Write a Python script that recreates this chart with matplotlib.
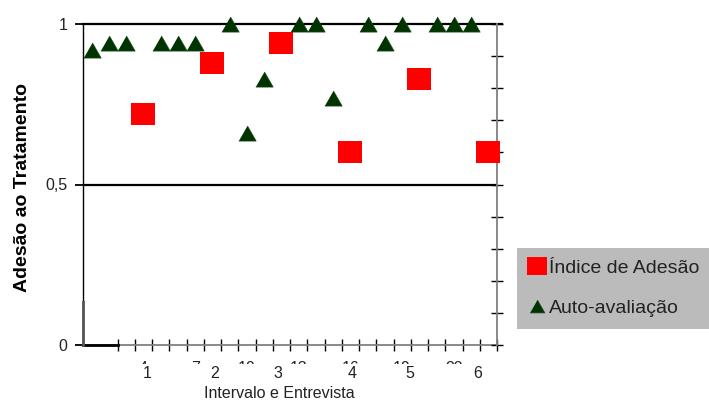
import numpy as np
import matplotlib
matplotlib.use("Agg")
import matplotlib.pyplot as plt
from matplotlib.patches import Rectangle

plt.rcParams['font.family'] = ['Liberation Sans', 'DejaVu Sans']

# category positions (1..24) and values
pos_indice = [4, 8, 12, 16, 20, 24]
indice_adesao = [0.72, 0.88, 0.94, 0.60, 0.83, 0.60]

pos_auto = [1, 2, 3, 5, 6, 7, 9, 10, 11, 13, 14, 15, 17, 18, 19, 21, 22, 23]
auto_avaliacao = [0.92, 0.94, 0.94, 0.94, 0.94, 0.94, 1.0, 0.66, 0.83,
                  1.0, 1.0, 0.77, 1.0, 0.94, 1.0, 1.0, 1.0, 1.0]

cut_labels = ["4", "7", "10", "13", "16", "19", "22"]
cut_pos = [4, 7, 10, 13, 16, 19, 22]
group_labels = ["1", "2", "3", "4", "5", "6"]
group_pos = [4.2, 8.15, 11.8, 16.1, 19.45, 23.4]

W, H = 709, 401
fig = plt.figure(figsize=(W / 100, H / 100), dpi=100)
ax = fig.add_axes([83 / W, 1 - 345 / H, 414 / W, 321 / H])
ax.set_xlim(0.5, 24.5)
ax.set_ylim(0, 1)

grey = '#808080'
for s in ['top', 'right']:
    ax.spines[s].set_visible(False)
ax.spines['left'].set_color('black')
ax.spines['left'].set_linewidth(1.0)
ax.spines['bottom'].set_color(grey)
ax.spines['bottom'].set_linewidth(1.3)

# left axis
ax.set_yticks([0, 0.5, 1])
ax.set_yticklabels(["0", "0,5", "1"])
ax.tick_params(axis='y', direction='out', length=6, width=1.3, color='black',
               labelsize=11.5, pad=5, labelcolor='#222222')

# bottom axis with category boundaries
ax.set_xticks(np.arange(2.5, 24.6, 1))
ax.set_xticklabels([])
ax.tick_params(axis='x', direction='inout', length=8, width=1, color='black')

# right axis
ax2 = ax.twinx()
ax2.set_ylim(0, 1)
for s in ['top', 'left', 'bottom']:
    ax2.spines[s].set_visible(False)
ax2.spines['right'].set_color(grey)
ax2.spines['right'].set_linewidth(1.3)
ax2.set_yticks(np.arange(0, 1.01, 0.1))
ax2.set_yticklabels([])
ax2.tick_params(axis='y', direction='inout', length=8, width=1, color='black')

# reference lines
ax.axhline(1, xmin=0, xmax=1.012, color='black', lw=1.6, clip_on=False, zorder=1)
ax.axhline(0.5, xmin=0, xmax=1.0, color='black', lw=1.6, zorder=1)
ax.plot([0.5, 2.5], [0, 0], color='black', lw=2, clip_on=False, zorder=3)
ax.plot([0.5, 0.5], [0, 0.134], color='#555555', lw=2, clip_on=False, zorder=3)

sq = [(-12, -10.5), (12, -10.5), (12, 10.5), (-12, 10.5)]
tri = [(-8.6, -7.5), (8.6, -7.5), (0, 7.5)]
ax2.plot(pos_indice, indice_adesao, linestyle='none', marker=sq, markersize=17.3,
         markerfacecolor='#ff0000', markeredgewidth=0, clip_on=False,
         label='Índice de Adesão', zorder=5)
ax2.plot(pos_auto, auto_avaliacao, linestyle='none', marker=tri, markersize=12.5,
         markerfacecolor='#003300', markeredgecolor='#1a4a1a', markeredgewidth=0.5,
         clip_on=False, label='Auto-avaliação', zorder=5)

# category labels, mostly hidden below the axis like in the original
for p, lab in zip(cut_pos, cut_labels):
    ax.text(p, -16 / 321, lab, ha='center', va='top', fontsize=11.5,
            color='#222222', transform=ax.get_xaxis_transform())
fig.add_artist(Rectangle((83 / W, 1 - 380 / H), 420 / W, 16.5 / H,
                         transform=fig.transFigure, facecolor='white',
                         edgecolor='none', zorder=2))

for p, lab in zip(group_pos, group_labels):
    fig.text(p, -29 / 321, lab, ha='center', va='center', fontsize=11.5,
             color='#222222', transform=ax.get_xaxis_transform())

fig.text((279 - 83) / 414, -49 / 321, "Intervalo e Entrevista", ha='center',
         va='center', fontsize=11.5, color='#222222', transform=ax.transAxes)
ax.text((23 - 83) / 414, (345 - 187) / 321, "Adesão ao Tratamento", ha='center',
        va='center', rotation=90, fontsize=14, fontweight='bold',
        transform=ax.transAxes)

h1, l1 = ax2.get_legend_handles_labels()
leg = fig.legend(h1, l1, loc='upper left', bbox_to_anchor=(517 / W, 1 - 248 / H),
                 frameon=True, fancybox=False, facecolor='#bbbbbb', edgecolor='none',
                 framealpha=1, fontsize=14, markerscale=0.85, handlelength=0.9,
                 handletextpad=0.15, labelspacing=1.15, borderpad=0.6,
                 borderaxespad=0)
for t in leg.get_texts():
    t.set_color('#222222')

fig.savefig("out.png", dpi=100)
